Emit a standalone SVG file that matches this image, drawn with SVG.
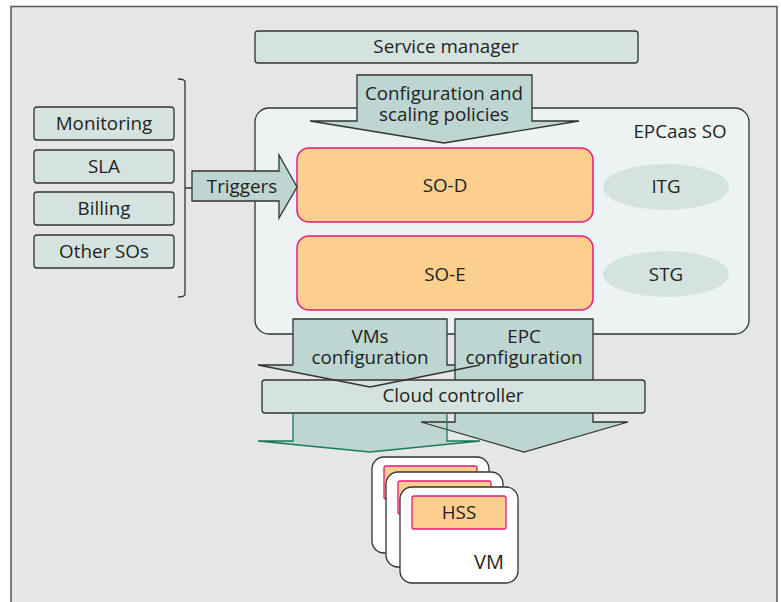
<svg xmlns="http://www.w3.org/2000/svg" width="781" height="602" viewBox="0 0 781 602">
<style>
text{font-family:"Open Sans","Noto Sans","Liberation Sans",sans-serif;font-size:18.8px;fill:#231f20;text-anchor:middle}
.box{fill:#d5e3e0;stroke:#333;stroke-width:1.3}
.arr{fill:#bdd6d2;stroke:none}
.ln{fill:none;stroke:#333;stroke-width:1.3;stroke-linejoin:miter}
.so{fill:#fbd08f;stroke:#e8187c;stroke-width:1.5}
.ell{fill:#d5e3e0}
.card{fill:#fff;stroke:#333;stroke-width:1.3}
.hss{fill:#fbd08f;stroke:#e8187c;stroke-width:1.3}
</style>
<rect x="0" y="0" width="781" height="602" fill="#fff"/>
<path d="M11,602 L11,6.5 L777,6.5 L777,602" fill="#e5e6e8" stroke="#555" stroke-width="1.5"/>

<g id="service-manager">
<rect class="box" x="255" y="31" width="383" height="32" rx="3"/>
<text x="446" y="53">Service manager</text>
</g>

<g id="epcaas-so">
<rect x="255" y="108" width="494" height="226" rx="14" fill="#edf2f2" stroke="#333" stroke-width="1.3"/>
<text x="680" y="138">EPCaas SO</text>
</g>

<g id="so-d">
<rect class="so" x="297" y="148" width="296" height="74" rx="12"/>
<text x="445" y="192">SO-D</text>
</g>
<g id="so-e">
<rect class="so" x="297" y="236" width="296" height="74" rx="12"/>
<text x="445" y="281">SO-E</text>
</g>
<g id="itg">
<ellipse class="ell" cx="666" cy="187" rx="63" ry="23"/>
<text x="666" y="193">ITG</text>
</g>
<g id="stg">
<ellipse class="ell" cx="666" cy="274" rx="63" ry="23"/>
<text x="666" y="281">STG</text>
</g>

<g id="monitoring">
<rect class="box" x="34" y="107" width="140" height="33" rx="3"/>
<text x="104" y="130">Monitoring</text>
</g>
<g id="sla">
<rect class="box" x="34" y="150" width="140" height="33" rx="3"/>
<text x="104" y="173">SLA</text>
</g>
<g id="billing">
<rect class="box" x="34" y="192" width="140" height="33" rx="3"/>
<text x="104" y="215">Billing</text>
</g>
<g id="other-sos">
<rect class="box" x="34" y="235" width="140" height="33" rx="3"/>
<text x="104" y="258">Other SOs</text>
</g>

<g id="connectors">
<path class="ln" d="M178,79 Q185,79 185,82 L185,294 Q185,297 178,297 M185,188 L192,188"/>
<g id="triggers">
<path class="arr" d="M192,171 L279,171 L279,155 L297,187 L279,218 L279,201 L192,201 Z"/>
<path class="ln" d="M192,171 L279,171 L279,155 L297,187 L279,218 L279,201 L192,201 Z"/>
<text x="242" y="193">Triggers</text>
</g>
<g id="config-policies">
<path class="arr" d="M357,75 L532,75 L532,121 L579,121 L444,143 L310,121 L357,121 Z"/>
<path class="ln" d="M357,75 L532,75 L532,121 L579,121 L444,143 L310,121 L357,121 Z"/>
<text x="444" y="100">Configuration and<tspan x="444" y="120.5">scaling policies</tspan></text>
</g>
<g id="arrow-fills">
<path class="arr" d="M455,319 L593,319 L593,422 L628,422 L524,452 L421,422 L455,422 Z"/>
<path class="arr" d="M293,319 L447,319 L447,365 L480,365 L370,387 L258,365 L293,365 Z"/>
<path class="arr" d="M293,405 L447,405 L447,441 L480,441 L370,452 L258,441 L293,441 Z"/>
</g>
</g>

<g id="cloud-controller">
<rect class="box" x="262" y="380" width="383" height="33" rx="3"/>
<text x="453" y="402">Cloud controller</text>
</g>

<g id="connector-lines">
<path class="ln" d="M455,380 L455,319 L593,319 L593,380"/>
<path class="ln" d="M455,413 L455,422 L421,422 L524,452 L628,422 L593,422 L593,413"/>
<path class="ln" d="M293,365 L293,319 L447,319 L447,365 L455,365 M480,365 L370,387 L258,365 L293,365"/>
<path d="M293,413 L293,441 L258,441 L370,452 L480,441 L447,441 L447,413" fill="none" stroke="#1a7a5e" stroke-width="1.3"/>
<text x="370" y="343">VMs<tspan x="370" y="364">configuration</tspan></text>
<text x="524" y="343">EPC<tspan x="524" y="364">configuration</tspan></text>
</g>

<g id="vm-1">
<rect class="card" x="372" y="457" width="117" height="96" rx="12"/>
<rect class="hss" x="384" y="466" width="93" height="33" rx="2"/>
</g>
<g id="vm-2">
<rect class="card" x="386" y="472" width="117" height="95" rx="12"/>
<rect class="hss" x="398" y="481" width="93" height="33" rx="2"/>
</g>
<g id="vm-3">
<rect class="card" x="400" y="487" width="118" height="96" rx="12"/>
<rect class="hss" x="412" y="496" width="94" height="33" rx="2"/>
<text x="459" y="519">HSS</text>
<text x="504" y="569" style="text-anchor:end;font-size:20px">VM</text>
</g>
</svg>
